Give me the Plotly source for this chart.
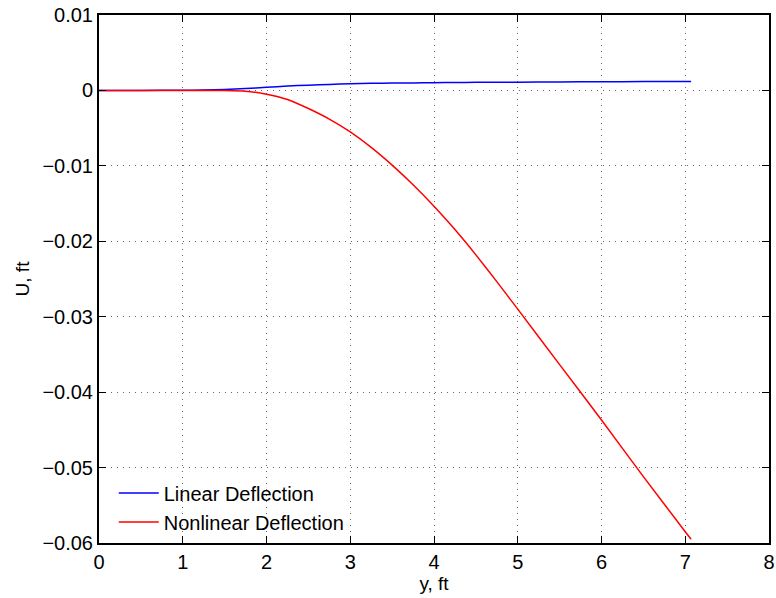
import plotly.graph_objects as go

y_ft = [0, 0.5, 1.0, 1.25, 1.5, 1.75, 2.0, 2.25, 2.5, 2.75, 3.0, 3.25, 3.5, 3.75,
        4.0, 4.25, 4.5, 4.75, 5.0, 5.5, 6.0, 6.5, 7.0, 7.07]
linear_u = [0, 0, 0.00002, 0.00005, 0.00012, 0.00025, 0.00042, 0.00058, 0.0007,
            0.0008, 0.00088, 0.00094, 0.00098, 0.001, 0.00103, 0.00105, 0.00107,
            0.00109, 0.0011, 0.00113, 0.00115, 0.00117, 0.0012, 0.0012]
nonlinear_u = [0, 0, 0, 0, -0.00002, -0.0001, -0.0005, -0.0012, -0.0024, -0.0038,
               -0.0055, -0.00755, -0.0099, -0.0125, -0.01535, -0.01845, -0.0218,
               -0.02535, -0.0290, -0.03635, -0.0437, -0.0512, -0.0585, -0.0595]

x_ticks = [0, 1, 2, 3, 4, 5, 6, 7, 8]
y_ticks = [0.01, 0, -0.01, -0.02, -0.03, -0.04, -0.05, -0.06]
y_tick_text = ["0.01", "0", "\u22120.01", "\u22120.02", "\u22120.03", "\u22120.04",
               "\u22120.05", "\u22120.06"]

fig = go.Figure()
fig.add_trace(go.Scatter(x=y_ft, y=linear_u, mode="lines", name="Linear Deflection",
                         line=dict(color="#0000ff", width=1.5, shape="spline", smoothing=0.5)))
fig.add_trace(go.Scatter(x=y_ft, y=nonlinear_u, mode="lines", name="Nonlinear Deflection",
                         line=dict(color="#ff0000", width=1.5, shape="spline", smoothing=0.5)))

font_family = "Liberation Sans, Arial, Helvetica, sans-serif"
axis_common = dict(
    showline=True, linecolor="black", linewidth=2, mirror="ticks",
    ticks="inside", ticklen=7, tickwidth=1, tickcolor="black",
    showgrid=True, gridcolor="rgba(0,0,0,0.6)", griddash="1px,5px", gridwidth=1,
    zeroline=False, automargin=False,
    tickfont=dict(size=20, color="black", family=font_family),
)
fig.update_xaxes(range=[0, 8], tickvals=x_ticks, ticktext=[str(t) for t in x_ticks],
                 title=dict(text="y, ft", font=dict(size=19, color="black", family=font_family), standoff=2),
                 **axis_common)
fig.update_yaxes(range=[-0.06, 0.01], tickvals=y_ticks, ticktext=y_tick_text,
                 title=dict(text="U, ft", font=dict(size=19, color="black", family=font_family), standoff=8),
                 **axis_common)

fig.update_layout(
    width=776, height=598,
    margin=dict(l=99, r=7, t=15, b=55),
    plot_bgcolor="white", paper_bgcolor="white",
    font=dict(family=font_family, color="black"),
    legend=dict(x=0.022, y=0.003, xanchor="left", yanchor="bottom",
                bgcolor="rgba(255,255,255,0)", borderwidth=0,
                font=dict(size=20, color="black", family=font_family),
                tracegroupgap=0, itemwidth=40),
    showlegend=True,
)

fig.write_html("out.html", config={"displayModeBar": False},
               post_script="document.body.style.margin='0';document.body.style.overflow='hidden';")
